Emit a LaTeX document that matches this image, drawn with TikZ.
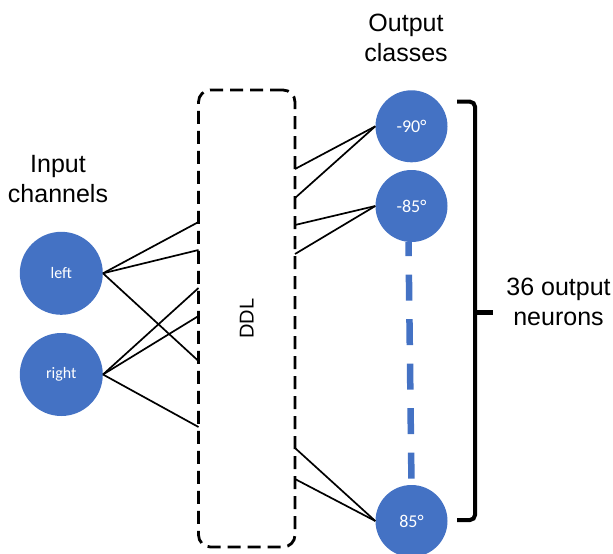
\documentclass[tikz,border=0pt]{standalone}
\usepackage{fontspec}
\setmainfont{Liberation Sans}
\newfontfamily\calibri{Carlito}
\usetikzlibrary{positioning}
\definecolor{neuronblue}{HTML}{4472C4}
\tikzset{
    x=1pt, y=-1pt, % one unit is one point, y runs downwards
    neuron/.style={circle, fill=neuronblue, inner sep=0pt, text=white, font=\calibri\fontsize{18}{20}\selectfont}, % blue unit
    ddl box/.style={draw, line width=2.8pt, rounded corners=12pt, dash pattern=on 13pt off 7pt}, % the dashed DDL layer
    link/.style={line width=1.7pt}, % plain connection
    brace line/.style={line width=4pt, rounded corners=5pt}, % the bracket on the right
    caption/.style={align=center, font=\fontsize{25}{30}\selectfont}, % headings
}

\begin{document}
\begin{tikzpicture}
    \useasboundingbox (0,0) rectangle (613,554);

    % input units
    \node[neuron, minimum size=83pt, font=\calibri\fontsize{16}{18}\selectfont] (left) at (61.3,273.3) {left};
    \node[neuron, minimum size=83pt, font=\calibri\fontsize{16}{18}\selectfont] (right) at (61.3,374.5) {right};

    % DDL layer
    \node[ddl box, minimum width=96.5pt, minimum height=457pt] (ddl) at (246.75,318.5) {};
    \node[rotate=90, font=\fontsize{20}{24}\selectfont] (ddltext) at (ddl.center) {DDL};

    % output units
    \node[neuron, minimum size=72pt] (m90) at (411.5,126.3) {-90°};
    \node[neuron, minimum size=72pt] (m85) at (411.5,206) {-85°};
    \node[neuron, minimum size=72pt] (p85) at (411.5,521) {85°};
    \draw[neuronblue, line width=6.5pt, dash pattern=on 26pt off 18.5pt, dash phase=12pt] ([xshift=-3pt]m85.south) -- (p85.north);

    % ends of the connections on the DDL layer
    \coordinate (a1) at (198.5,222);
    \coordinate (a2) at (198.5,250);
    \coordinate (a3) at (198.5,361);
    \coordinate (b1) at (198.5,288);
    \coordinate (b2) at (198.5,316);
    \coordinate (b3) at (198.5,427);
    \coordinate (c1) at (295,169);
    \coordinate (c2) at (295,198);
    \coordinate (c3) at (295,225);
    \coordinate (c4) at (295,254);
    \coordinate (c5) at (295,448);
    \coordinate (c6) at (295,479);

    \draw[link]
    (left.east) edge (a1)
    (left.east) edge (a2)
    (left.east) edge (a3)
    (right.east) edge (b1)
    (right.east) edge (b2)
    (right.east) edge (b3)
    (c1) edge (m90.west)
    (c2) edge (m90.west)
    (c3) edge (m85.west)
    (c4) edge (m85.west)
    (c5) edge (p85.west)
    (c6) edge (p85.west);

    % bracket over all output units
    \coordinate (btop) at (457,101.7);
    \coordinate (bbot) at (457,520);
    \coordinate (btip) at (493,312);
    \draw[brace line] (btop) -- (475,101.7) -- (475,520) -- (bbot);
    \draw[line width=5pt] (475,312) -- (btip);

    % headings
    \node[caption] (inputs) at (58,179) {Input\\channels};
    \node[caption] (outputs) at (406,38) {Output\\classes};
    \node[caption] (count) at (558.5,302) {36 output\\neurons};
\end{tikzpicture}
\end{document}
